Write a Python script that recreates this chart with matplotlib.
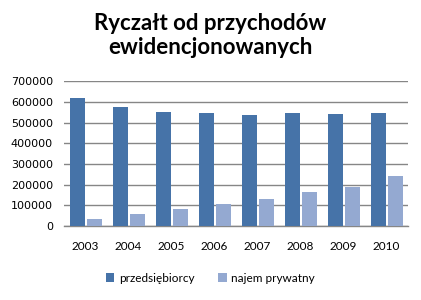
import numpy as np
import matplotlib
matplotlib.use('Agg')
import matplotlib.pyplot as plt

# Dane z wykresu
lata = ['2003', '2004', '2005', '2006', '2007', '2008', '2009', '2010']
przedsiebiorcy = [619000, 576000, 551000, 547000, 537000, 547000, 542000, 547000]
najem_prywatny = [34000, 58000, 82000, 106000, 131000, 164000, 189000, 242000]
y_ticks = [0, 100000, 200000, 300000, 400000, 500000, 600000, 700000]

fig = plt.figure(figsize=(4.21, 3.00), dpi=100)
ax = fig.add_axes([0.152, 0.2467, 0.817, 0.4823])

x = np.arange(len(lata))
w = 0.35
ax.bar(x - 0.19, przedsiebiorcy, width=w, color='#4673A8', label='przedsiębiorcy', zorder=3)
ax.bar(x + 0.22, najem_prywatny, width=w, color='#94A9D1', label='najem prywatny', zorder=3)

ax.set_xlim(-0.5, len(lata) - 0.5)
ax.set_ylim(0, 700000)
ax.set_yticks(y_ticks)
ax.set_yticklabels([str(v) for v in y_ticks], fontsize=8, family='DejaVu Sans')
ax.set_xticks(x)
ax.set_xticklabels(lata, fontsize=8.5, family='Lato')
ax.tick_params(axis='both', length=0, pad=8)
ax.tick_params(axis='x', pad=11)

ax.grid(axis='y', color='#868686', linewidth=1, zorder=0)
for s in ['top', 'right', 'left']:
    ax.spines[s].set_visible(False)
ax.spines['bottom'].set_color('#868686')
ax.spines['bottom'].set_linewidth(1)

fig.text(0.5, 0.957, 'Ryczałt od przychodów\newidencjonowanych', ha='center', va='top',
         fontsize=16, fontweight='bold', family='Lato', linespacing=1.2)

fig.legend(loc='center', bbox_to_anchor=(0.5, 0.073), ncol=2, frameon=False,
           prop={'family': 'Lato', 'size': 8.5}, handlelength=0.7, handleheight=0.7,
           handletextpad=0.4, columnspacing=2.0)

fig.savefig('out.png', dpi=100)
